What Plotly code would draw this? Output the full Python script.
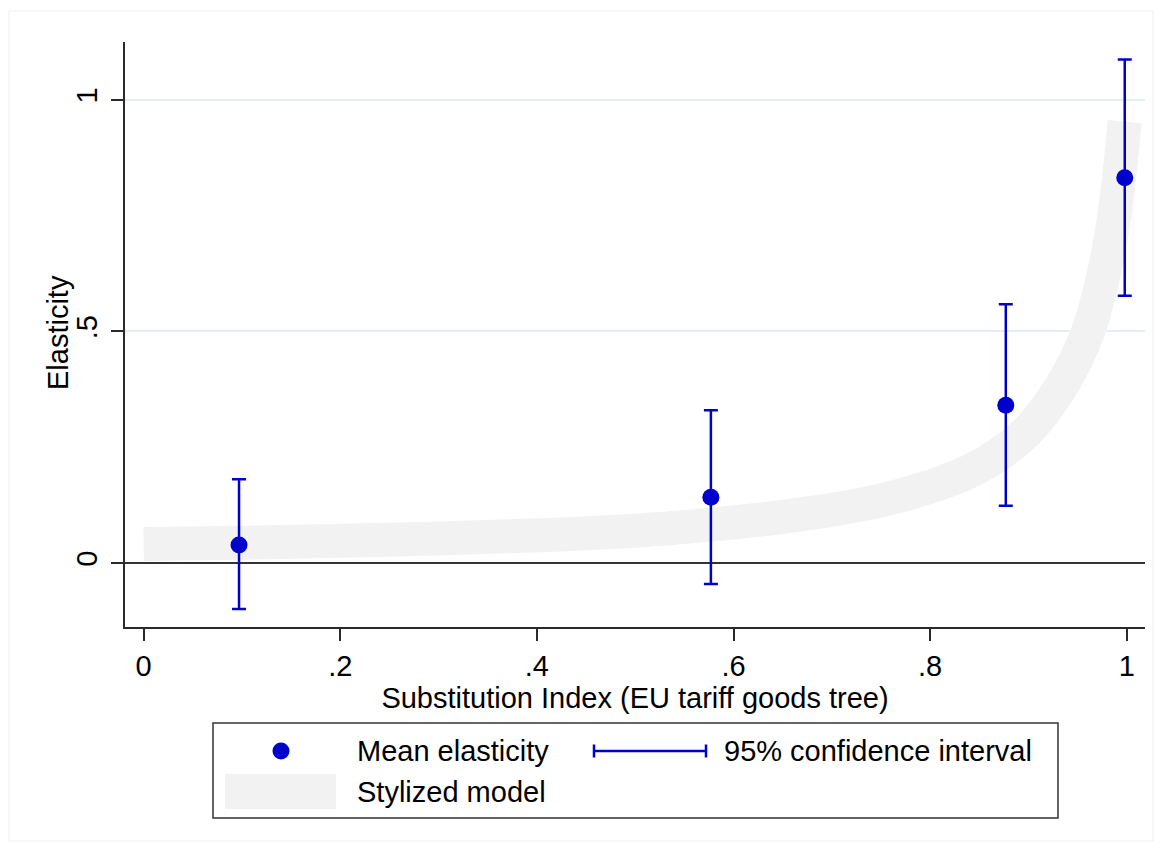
import plotly.graph_objects as go

# ---- data ----
x_vals = [0.097, 0.577, 0.877, 0.998]
mean_vals = [0.039, 0.142, 0.341, 0.832]
ci_low = [-0.099, -0.045, 0.124, 0.577]
ci_high = [0.181, 0.330, 0.559, 1.087]

model_x = [0.0, 0.1, 0.2, 0.3, 0.4, 0.5, 0.577, 0.65, 0.7, 0.75, 0.8, 0.84, 0.877,
           0.9, 0.922, 0.94, 0.955, 0.965, 0.974, 0.982, 0.988, 0.993, 0.998]
model_y = [0.041, 0.044, 0.048, 0.053, 0.060, 0.070, 0.083, 0.100, 0.115, 0.135, 0.165, 0.198, 0.245,
           0.287, 0.345, 0.405, 0.470, 0.528, 0.600, 0.680, 0.760, 0.848, 0.953]

x_tickvals = [0, 0.2, 0.4, 0.6, 0.8, 1]
x_ticktext = ["0", ".2", ".4", ".6", ".8", "1"]
y_tickvals = [0, 0.5, 1]
y_ticktext = ["0", ".5", "1"]

series_names = ["Mean elasticity", "95% confidence interval", "Stylized model"]
x_title = "Substitution Index (EU tariff goods tree)"
y_title = "Elasticity"

# ---- styles ----
W, H = 1162, 852
ML, MR, MT, MB = 125, 17, 42, 225
FONT = "Liberation Sans, Arial, sans-serif"
FS = 29
BLUE = "#0000cc"
BAND = "#f2f2f2"
AXIS = "#2a2a2a"

err_plus = [h - m for h, m in zip(ci_high, mean_vals)]
err_minus = [m - l for m, l in zip(mean_vals, ci_low)]

fig = go.Figure()

fig.add_trace(go.Scatter(
    x=model_x, y=model_y, mode="lines", name=series_names[2],
    line=dict(color=BAND, width=34, shape="spline", smoothing=1.0),
    showlegend=False, hoverinfo="skip",
))

fig.add_trace(go.Scatter(
    x=x_vals, y=mean_vals, mode="markers", name=series_names[0],
    marker=dict(color=BLUE, size=17, line=dict(width=0)),
    error_y=dict(type="data", symmetric=False, array=err_plus, arrayminus=err_minus,
                 color=BLUE, thickness=2.5, width=7),
    showlegend=False,
))

# pixel -> paper helpers for the manual legend box
pw = W - ML - MR
ph = H - MT - MB
def px(X):
    return (X - ML) / pw
def py(Y):
    return (H - MB - Y) / ph

shapes = [
    # faint outer graph-region frame
    dict(type="rect", xref="paper", yref="paper", x0=px(9), x1=px(1153), y0=py(841), y1=py(11),
         line=dict(color="#efefef", width=1), fillcolor="rgba(0,0,0,0)", layer="below"),
    # legend box
    dict(type="rect", xref="paper", yref="paper", x0=px(213), x1=px(1058), y0=py(818), y1=py(723),
         line=dict(color="#333333", width=1.5), fillcolor="white"),
    # legend: marker
    dict(type="circle", xref="paper", yref="paper", x0=px(272.5), x1=px(289.5), y0=py(759.5), y1=py(742.5),
         line=dict(width=0), fillcolor=BLUE),
    # legend: CI bar with caps
    dict(type="line", xref="paper", yref="paper", x0=px(594), x1=px(706), y0=py(751), y1=py(751),
         line=dict(color=BLUE, width=2.5)),
    dict(type="line", xref="paper", yref="paper", x0=px(594), x1=px(594), y0=py(744.5), y1=py(757.5),
         line=dict(color=BLUE, width=2.5)),
    dict(type="line", xref="paper", yref="paper", x0=px(706), x1=px(706), y0=py(744.5), y1=py(757.5),
         line=dict(color=BLUE, width=2.5)),
    # legend: band swatch
    dict(type="rect", xref="paper", yref="paper", x0=px(225), x1=px(336), y0=py(809), y1=py(774),
         line=dict(width=0), fillcolor=BAND),
]

annotations = [
    dict(xref="paper", yref="paper", x=px(355), y=py(751), text=series_names[0], showarrow=False,
         xanchor="left", yanchor="middle", font=dict(family=FONT, size=FS, color="black")),
    dict(xref="paper", yref="paper", x=px(722), y=py(751), text=series_names[1], showarrow=False,
         xanchor="left", yanchor="middle", font=dict(family=FONT, size=FS, color="black")),
    dict(xref="paper", yref="paper", x=px(355), y=py(792), text=series_names[2], showarrow=False,
         xanchor="left", yanchor="middle", font=dict(family=FONT, size=FS, color="black")),
    # y-axis title
    dict(xref="paper", yref="paper", x=px(58), y=py(333), text=y_title, showarrow=False,
         textangle=-90, xanchor="center", yanchor="middle",
         font=dict(family=FONT, size=FS, color="black")),
]

fig.update_layout(
    width=W, height=H,
    margin=dict(l=ML, r=MR, t=MT, b=MB, pad=0),
    paper_bgcolor="white", plot_bgcolor="white",
    font=dict(family=FONT, size=FS, color="black"),
    showlegend=False,
    shapes=shapes, annotations=annotations,
    xaxis=dict(
        range=[-0.019, 1.0186], tickvals=x_tickvals, ticktext=x_ticktext,
        showgrid=False, zeroline=False, showline=True, linecolor=AXIS, linewidth=2,
        ticks="outside", ticklen=12, tickwidth=2, tickcolor=AXIS,
        tickfont=dict(family=FONT, size=FS, color="black"),
        title=dict(text=x_title, standoff=0,
                   font=dict(family=FONT, size=FS, color="black")),
    ),
    yaxis=dict(
        range=[-0.138, 1.125], tickvals=y_tickvals, ticktext=y_ticktext, tickangle=-90,
        showgrid=True, gridcolor="#e6eff0", gridwidth=1.5,
        zeroline=True, zerolinecolor="#333333", zerolinewidth=2,
        showline=True, linecolor=AXIS, linewidth=2,
        ticks="outside", ticklen=12, tickwidth=2, tickcolor=AXIS, ticklabelstandoff=2,
        tickfont=dict(family=FONT, size=FS, color="black"),
    ),
)

fig.write_html("out.html")
